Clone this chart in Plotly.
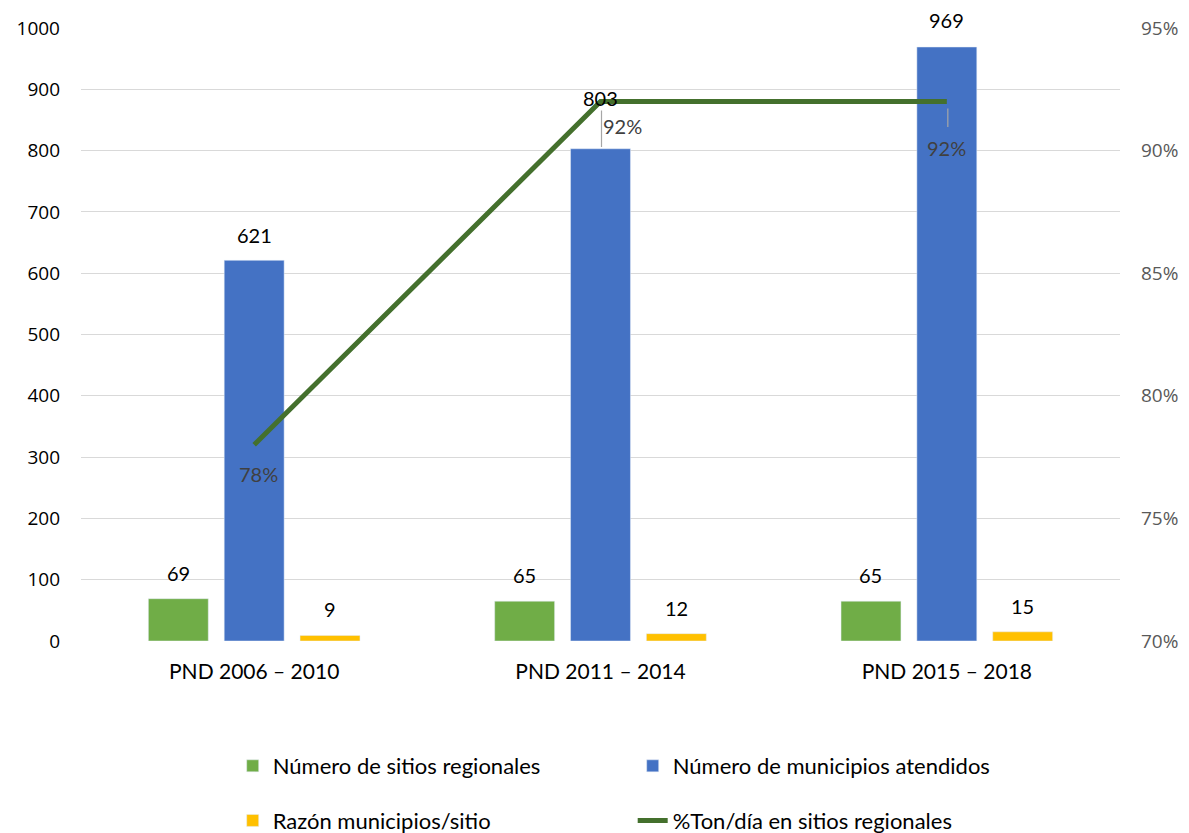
import plotly.graph_objects as go

categories = ["PND 2006 – 2010", "PND 2011 – 2014", "PND 2015 – 2018"]
sitios = [69, 65, 65]
municipios = [621, 803, 969]
razon = [9, 12, 15]
pct_ton = [0.78, 0.92, 0.92]

names = ["Número de sitios regionales", "Número de municipios atendidos",
         "Razón municipios/sitio", "%Ton/día en sitios regionales"]

GREEN, BLUE, YELLOW, LINE = "#70AD47", "#4472C4", "#FFC000", "#44702D"
NUMFONT = "Open Sans"
TXTFONT = "Lato"

fig = go.Figure()
fig.add_trace(go.Bar(x=categories, y=sitios, name=names[0], marker_color=GREEN, legend="legend"))
fig.add_trace(go.Bar(x=categories, y=municipios, name=names[1], marker_color=BLUE, legend="legend"))
fig.add_trace(go.Bar(x=categories, y=razon, name=names[2], marker_color=YELLOW, legend="legend2"))
fig.add_trace(go.Scatter(x=categories, y=pct_ton, name=names[3], yaxis="y2", mode="lines",
                         line=dict(color=LINE, width=5), legend="legend2"))

annotations = []
# bar value labels
series = [(sitios, -76, [26, 26, 26]), (municipios, 0, [25, 51, 27]), (razon, 76, [26, 26, 26])]
for vals, xs, ys in series:
    for c, v, yy in zip(categories, vals, ys):
        annotations.append(dict(x=c, y=v, xref="x", yref="y", text=str(v), showarrow=False,
                                xshift=xs, yshift=yy, font=dict(family=TXTFONT, size=20, color="#000000")))
# line labels
line_offsets = [(4, -29), (22, -24), (0, -46)]
for c, v, (xs, ys) in zip(categories, pct_ton, line_offsets):
    annotations.append(dict(x=c, y=v, xref="x", yref="y2", text=f"{v:.0%}", showarrow=False,
                            xshift=xs, yshift=ys, font=dict(family=TXTFONT, size=20, color="#404040")))
# leader lines
for c, v, (xs, ay, so) in zip(categories[1:], pct_ton[1:], [(1, 47, 9), (1, 27, 7)]):
    annotations.append(dict(x=c, y=v, xref="x", yref="y2", text="", showarrow=True, arrowhead=0,
                            arrowwidth=1.2, arrowcolor="#A6A6A6", ax=0, ay=ay, standoff=so, xshift=xs))

legfont = dict(family=TXTFONT, size=22, color="#000000")
fig.update_layout(
    width=1181, height=825,
    paper_bgcolor="white", plot_bgcolor="white",
    margin=dict(l=73, r=69, t=20, b=192),
    barmode="group", bargap=0.343, bargroupgap=0.21,
    xaxis=dict(showgrid=False, showline=False, ticks="", ticklabelstandoff=16, automargin=False,
               tickfont=dict(family=TXTFONT, size=21, color="#000000")),
    yaxis=dict(range=[0, 1000], dtick=100, showgrid=True, gridcolor="#D9D9D9", gridwidth=1.3,
               zeroline=False, showline=False, ticks="", ticklabelstandoff=20, automargin=False,
               tickfont=dict(family=NUMFONT, size=19, color="#000000")),
    yaxis2=dict(range=[0.70, 0.95], dtick=0.05, tickformat=".0%", overlaying="y", side="right",
                showgrid=False, zeroline=False, showline=False, ticks="", ticklabelstandoff=20,
                automargin=False, tickfont=dict(family=NUMFONT, size=19, color="#595959")),
    legend=dict(orientation="h", x=0.146, xanchor="left", yref="container", y=0.0812, yanchor="middle",
                entrywidth=355, font=legfont, bgcolor="rgba(0,0,0,0)"),
    legend2=dict(orientation="h", x=0.146, xanchor="left", yref="container", y=0.0150, yanchor="middle",
                 entrywidth=355, font=legfont, bgcolor="rgba(0,0,0,0)"),
    annotations=annotations,
    showlegend=True,
)

fig.write_html("out.html")
